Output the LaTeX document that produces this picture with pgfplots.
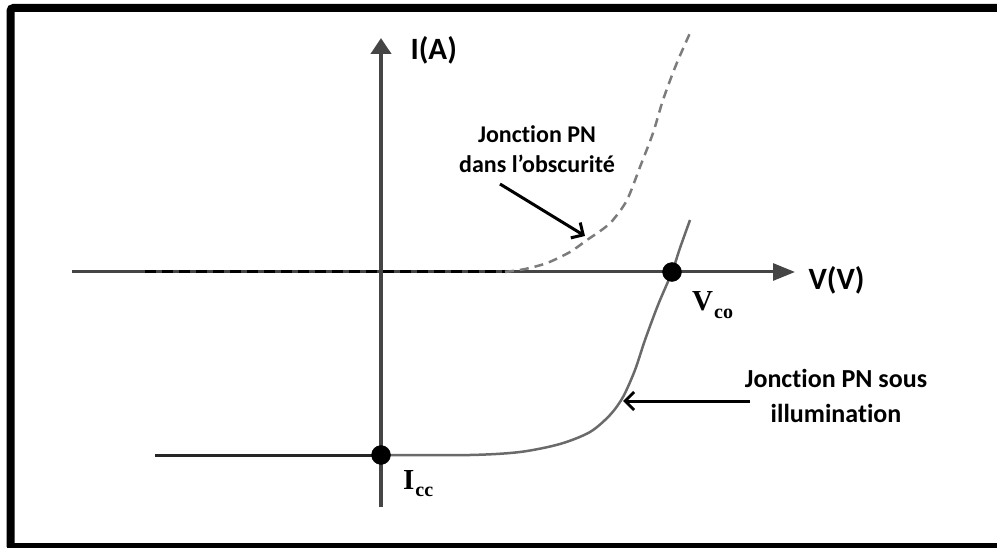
\documentclass[border=0pt]{standalone}
\usepackage{pgfplots}
\pgfplotsset{compat=1.18}
\usepackage{fontspec}
\setmainfont{Carlito}[Ligatures={NoCommon}]
\newfontfamily\labelserif{Liberation Serif}
\usetikzlibrary{arrows.meta}
\definecolor{axisgray}{HTML}{454545}
\definecolor{curvegray}{HTML}{6A6A6A}
\definecolor{dashgray}{HTML}{7C7C7C}
% bold serif symbol with a bold subscript
\newcommand{\pointlabel}[2]{{\labelserif\bfseries #1\kern1pt\raisebox{-0.25em}{\fontsize{20}{20}\selectfont #2}}}
\begin{document}
\begin{tikzpicture}
\begin{axis}[
  scale only axis, width=997pt, height=548pt,
  xmin=0, xmax=997, ymin=0, ymax=548, y dir=reverse,
  hide axis, clip=true,
]
% outer frame
\draw[line width=8pt, black, rounded corners=3pt]
  (axis cs:10.5,547) -- (axis cs:10.5,8) -- (axis cs:1010,8);
\draw[line width=8pt, black] (axis cs:6.5,547) -- (axis cs:1010,547);

% axes
\addplot[axisgray, line width=3pt, -{Triangle[length=22pt,width=17pt]}]
  coordinates {(72,272) (795,272)};
\addplot[axisgray, line width=4pt, -{Triangle[length=16pt,width=20pt]}]
  coordinates {(381,507) (381,38)};

% junction in the dark (dashed)
\addplot[black, line width=3pt, dash pattern=on 11pt off 6pt]
  coordinates {(145,272) (505,272)};
\addplot[dashgray, line width=2.5pt, dash pattern=on 9pt off 6pt, smooth]
  coordinates {(505,272) (525,269) (547,263) (570,252) (587,240) (603,229)
               (613,220) (627,200) (640,167) (653,133) (663,100) (676,65) (690,33)};

% junction under illumination
\addplot[black!85, line width=3pt]
  coordinates {(155,455) (381,455)};
\addplot[curvegray, line width=2.5pt, smooth]
  coordinates {(381,455) (470,455) (520,452) (560,444) (590,432) (610,415)
               (623,397) (635,370) (645,340) (658,305) (672,272) (680,248) (690,220)};

% short-circuit and open-circuit points
\addplot[only marks, mark=*, mark size=9.5pt, black]
  coordinates {(381,455) (672,272)};

% axis names
\node[anchor=base west, font=\fontsize{31}{34}\selectfont\bfseries]
  at (axis cs:407,60) {I(A)};
\node[anchor=base west, font=\fontsize{31}{34}\selectfont\bfseries]
  at (axis cs:805,290) {V(V)};

% point labels
\node[anchor=base west, inner sep=0pt, font=\fontsize{29}{30}\selectfont]
  at (axis cs:692,311) {\pointlabel{V}{co}};
\node[anchor=base west, inner sep=0pt, font=\fontsize{29}{30}\selectfont]
  at (axis cs:403,489) {\pointlabel{I}{cc}};

% curve annotations
\node[anchor=base, font=\fontsize{24}{30}\selectfont\bfseries]
  at (axis cs:537,143) {Jonction PN};
\node[anchor=base, font=\fontsize{24}{30}\selectfont\bfseries]
  at (axis cs:537,173) {dans l’obscurité};
\draw[black, line width=3pt, -{Straight Barb[length=9pt,width=18pt]}]
  (axis cs:500,184) -- (axis cs:585,236);

\node[anchor=base, font=\fontsize{26}{30}\selectfont\bfseries]
  at (axis cs:836,388) {Jonction PN sous};
\node[anchor=base, font=\fontsize{26}{30}\selectfont\bfseries]
  at (axis cs:836,422) {illumination};
\draw[black, line width=3pt, -{Straight Barb[length=9pt,width=18pt]}]
  (axis cs:750,401) -- (axis cs:623,401);
\end{axis}
\pgfresetboundingbox
\useasboundingbox (current axis.south west) rectangle (current axis.north east);
\end{tikzpicture}
\end{document}
